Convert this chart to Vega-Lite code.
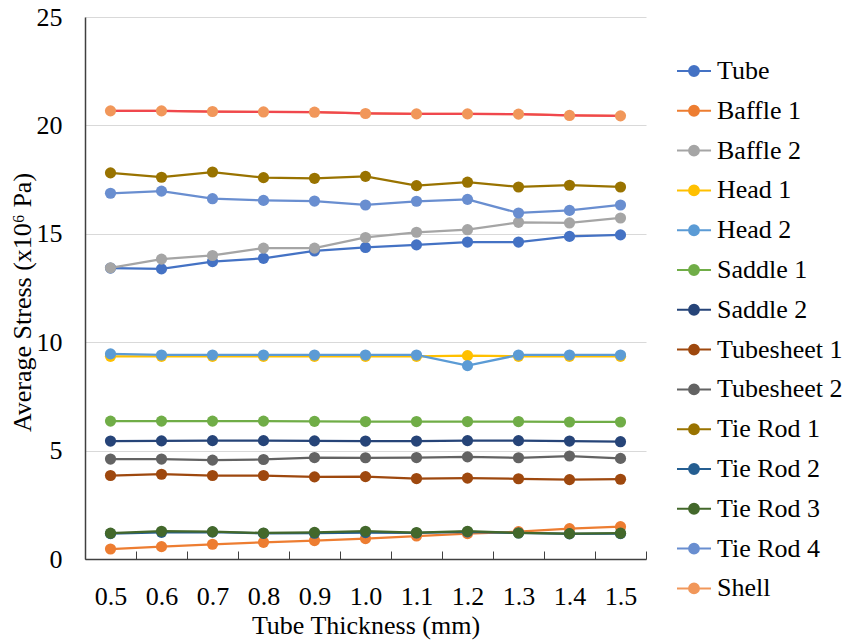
{
  "$schema": "https://vega.github.io/schema/vega-lite/v6.json",
  "width": 561,
  "height": 542,
  "autosize": {"type": "none"},
  "padding": {"left": 85, "top": 17, "right": 200, "bottom": 83},
  "background": "white",
  "config": {
    "font": "Liberation Serif",
    "view": {"stroke": null},
    "axis": {
      "labelFont": "Liberation Serif",
      "titleFont": "Liberation Serif",
      "labelFontSize": 26,
      "titleFontSize": 26,
      "labelColor": "#000000",
      "titleColor": "#000000",
      "titleFontWeight": "normal",
      "domainColor": "#404040",
      "tickColor": "#404040",
      "domainWidth": 1.5
    },
    "legend": {
      "labelFont": "Liberation Serif",
      "labelFontSize": 26,
      "labelColor": "#000000"
    }
  },
  "data": {
    "values": [
      {"t": "0.5", "Tube": 13.42, "Baffle 1": 0.46, "Baffle 2": 13.43, "Head 1": 9.35, "Head 2": 9.46, "Saddle 1": 6.36, "Saddle 2": 5.44, "Tubesheet 1": 3.85, "Tubesheet 2": 4.61, "Tie Rod 1": 17.81, "Tie Rod 2": 1.17, "Tie Rod 3": 1.19, "Tie Rod 4": 16.87, "Shell": 20.67},
      {"t": "0.6", "Tube": 13.38, "Baffle 1": 0.57, "Baffle 2": 13.83, "Head 1": 9.35, "Head 2": 9.41, "Saddle 1": 6.36, "Saddle 2": 5.45, "Tubesheet 1": 3.91, "Tubesheet 2": 4.61, "Tie Rod 1": 17.61, "Tie Rod 2": 1.23, "Tie Rod 3": 1.28, "Tie Rod 4": 16.97, "Shell": 20.67},
      {"t": "0.7", "Tube": 13.72, "Baffle 1": 0.68, "Baffle 2": 14.0, "Head 1": 9.35, "Head 2": 9.41, "Saddle 1": 6.36, "Saddle 2": 5.46, "Tubesheet 1": 3.85, "Tubesheet 2": 4.56, "Tie Rod 1": 17.85, "Tie Rod 2": 1.24, "Tie Rod 3": 1.26, "Tie Rod 4": 16.62, "Shell": 20.64},
      {"t": "0.8", "Tube": 13.87, "Baffle 1": 0.77, "Baffle 2": 14.34, "Head 1": 9.35, "Head 2": 9.41, "Saddle 1": 6.36, "Saddle 2": 5.46, "Tubesheet 1": 3.85, "Tubesheet 2": 4.59, "Tie Rod 1": 17.59, "Tie Rod 2": 1.18, "Tie Rod 3": 1.2, "Tie Rod 4": 16.54, "Shell": 20.62},
      {"t": "0.9", "Tube": 14.21, "Baffle 1": 0.85, "Baffle 2": 14.34, "Head 1": 9.35, "Head 2": 9.41, "Saddle 1": 6.35, "Saddle 2": 5.45, "Tubesheet 1": 3.79, "Tubesheet 2": 4.68, "Tie Rod 1": 17.56, "Tie Rod 2": 1.19, "Tie Rod 3": 1.23, "Tie Rod 4": 16.51, "Shell": 20.61},
      {"t": "1.0", "Tube": 14.37, "Baffle 1": 0.94, "Baffle 2": 14.83, "Head 1": 9.35, "Head 2": 9.41, "Saddle 1": 6.34, "Saddle 2": 5.44, "Tubesheet 1": 3.8, "Tubesheet 2": 4.67, "Tie Rod 1": 17.65, "Tie Rod 2": 1.22, "Tie Rod 3": 1.28, "Tie Rod 4": 16.33, "Shell": 20.55},
      {"t": "1.1", "Tube": 14.49, "Baffle 1": 1.06, "Baffle 2": 15.07, "Head 1": 9.35, "Head 2": 9.41, "Saddle 1": 6.34, "Saddle 2": 5.44, "Tubesheet 1": 3.71, "Tubesheet 2": 4.68, "Tie Rod 1": 17.22, "Tie Rod 2": 1.2, "Tie Rod 3": 1.22, "Tie Rod 4": 16.5, "Shell": 20.53},
      {"t": "1.2", "Tube": 14.62, "Baffle 1": 1.17, "Baffle 2": 15.19, "Head 1": 9.38, "Head 2": 8.92, "Saddle 1": 6.34, "Saddle 2": 5.46, "Tubesheet 1": 3.73, "Tubesheet 2": 4.71, "Tie Rod 1": 17.38, "Tie Rod 2": 1.25, "Tie Rod 3": 1.28, "Tie Rod 4": 16.59, "Shell": 20.53},
      {"t": "1.3", "Tube": 14.62, "Baffle 1": 1.26, "Baffle 2": 15.53, "Head 1": 9.35, "Head 2": 9.41, "Saddle 1": 6.34, "Saddle 2": 5.46, "Tubesheet 1": 3.7, "Tubesheet 2": 4.67, "Tie Rod 1": 17.16, "Tie Rod 2": 1.2, "Tie Rod 3": 1.2, "Tie Rod 4": 15.96, "Shell": 20.52},
      {"t": "1.4", "Tube": 14.88, "Baffle 1": 1.4, "Baffle 2": 15.5, "Head 1": 9.35, "Head 2": 9.41, "Saddle 1": 6.32, "Saddle 2": 5.44, "Tubesheet 1": 3.66, "Tubesheet 2": 4.75, "Tie Rod 1": 17.24, "Tie Rod 2": 1.16, "Tie Rod 3": 1.17, "Tie Rod 4": 16.08, "Shell": 20.46},
      {"t": "1.5", "Tube": 14.95, "Baffle 1": 1.49, "Baffle 2": 15.73, "Head 1": 9.35, "Head 2": 9.41, "Saddle 1": 6.32, "Saddle 2": 5.41, "Tubesheet 1": 3.68, "Tubesheet 2": 4.64, "Tie Rod 1": 17.16, "Tie Rod 2": 1.17, "Tie Rod 3": 1.19, "Tie Rod 4": 16.33, "Shell": 20.44}
    ]
  },
  "transform": [
    {"fold": ["Tube", "Baffle 1", "Baffle 2", "Head 1", "Head 2", "Saddle 1", "Saddle 2", "Tubesheet 1", "Tubesheet 2", "Tie Rod 1", "Tie Rod 2", "Tie Rod 3", "Tie Rod 4", "Shell"], "as": ["s", "v"]}
  ],
  "encoding": {
    "x": {
      "field": "t",
      "type": "ordinal",
      "sort": null,
      "scale": {"type": "band", "paddingInner": 0, "paddingOuter": 0},
      "axis": {
        "title": "Tube Thickness (mm)",
        "labelAngle": 0,
        "tickBand": "extent",
        "tickSize": -8,
        "labelPadding": 32,
        "titlePadding": 3
      }
    },
    "y": {
      "field": "v",
      "type": "quantitative",
      "scale": {"domain": [0, 25]},
      "axis": {
        "values": [0, 5, 10, 15, 20, 25],
        "title": "Average Stress (x10⁶ Pa)",
        "ticks": false,
        "labelPadding": 23,
        "titlePadding": 1,
        "titleY": 285,
        "gridColor": "#D9D9D9",
        "gridWidth": 1.2
      }
    },
    "color": {
      "field": "s",
      "type": "nominal",
      "scale": {
        "domain": ["Tube", "Baffle 1", "Baffle 2", "Head 1", "Head 2", "Saddle 1", "Saddle 2", "Tubesheet 1", "Tubesheet 2", "Tie Rod 1", "Tie Rod 2", "Tie Rod 3", "Tie Rod 4", "Shell"],
        "range": ["#4472C4", "#ED7D31", "#A5A5A5", "#FFC000", "#5B9BD5", "#70AD47", "#264478", "#9E480E", "#636363", "#997300", "#255E91", "#43682B", "#698ED0", "#F1975A"]
      },
      "legend": {
        "title": null,
        "orient": "none",
        "legendX": 591,
        "legendY": 36,
        "symbolType": "M-1,0L1,0M-0.29,0A0.29,0.29,0,1,1,0.29,0A0.29,0.29,0,1,1,-0.29,0Z",
        "symbolSize": 1156,
        "symbolStrokeWidth": 2,
        "symbolOpacity": 1,
        "rowPadding": 8.8,
        "labelOffset": 5
      }
    }
  },
  "layer": [
    {"mark": {"type": "line", "strokeWidth": 2.25}},
    {
      "transform": [{"filter": "datum.s === 'Shell'"}],
      "mark": {"type": "line", "strokeWidth": 2.25},
      "encoding": {"color": {"value": "#F0474E"}}
    },
    {"mark": {"type": "point", "filled": true, "size": 125, "opacity": 1}}
  ]
}
